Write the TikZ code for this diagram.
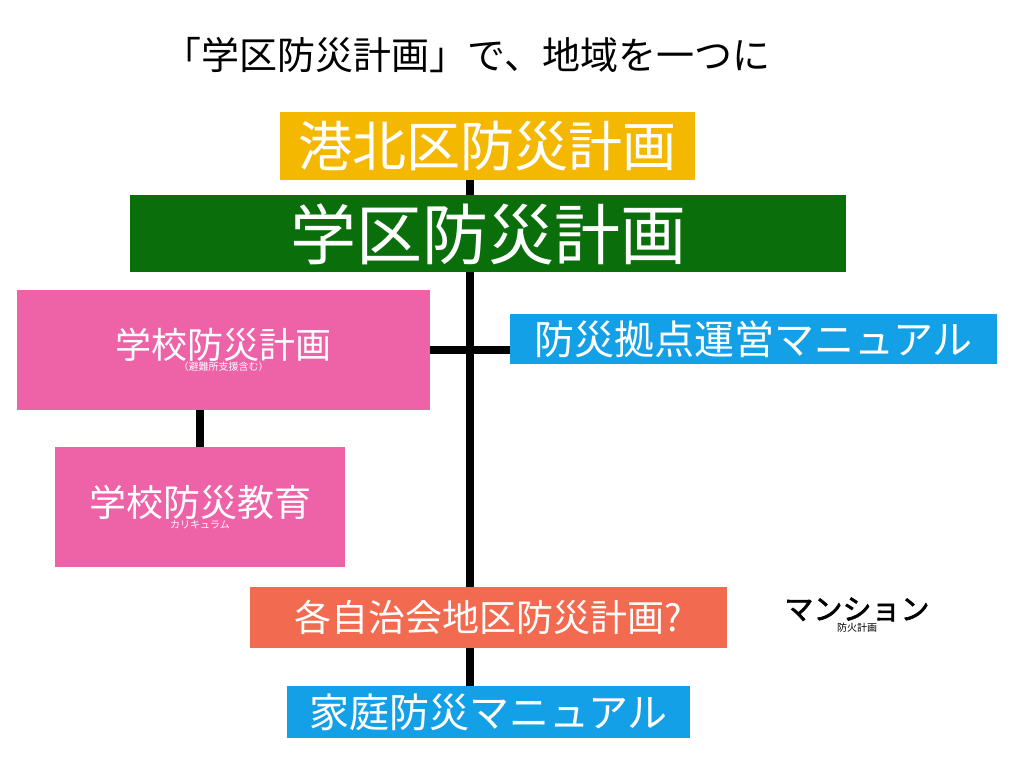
\documentclass[tikz,border=0pt]{standalone}
\usepackage{fontspec}
\setmainfont{Noto Sans CJK JP}
\newfontfamily\jpb{Noto Sans CJK JP}[FakeBold=2]
\definecolor{cyel}{HTML}{F5B800}
\definecolor{cgrn}{HTML}{0A6E0A}
\definecolor{cpnk}{HTML}{EE62A8}
\definecolor{cblu}{HTML}{14A0E6}
\definecolor{corg}{HTML}{F26A50}
\tikzset{x=1pt,y=-1pt,
 bx/.style={inner sep=0pt,text=white,align=center},
 ln/.style={line width=8pt,black}}
\begin{document}
\begin{tikzpicture}
\useasboundingbox (0,0) rectangle (1021,768);
\fill[white] (0,0) rectangle (1021,768);
\node (t) at (467,55) {\fontsize{38}{44}\selectfont 「学区防災計画」で、地域を一つに};
% vertical line
\coordinate (vt) at (470,180);
\coordinate (vb) at (470,686);
\draw[ln] (vt) -- (vb);
\draw[ln] (430,350) -- (510,350);
\draw[ln] (200,410) -- (200,447);
\fill[cyel] (280,112) rectangle (695,180);
\node[bx] (a) at (487.5,146) {\fontsize{54}{60}\selectfont 港北区防災計画};
\fill[cgrn] (130,195) rectangle (846,272);
\node[bx] (b) at (488,234) {\fontsize{66}{72}\selectfont 学区防災計画};
\fill[cpnk] (17,290) rectangle (430,410);
\node[bx] (c) at (223.5,350) {\fontsize{36}{57}\selectfont 学校防災計画\\（避難所支援含む）};
\fill[cblu] (510,314) rectangle (997,364);
\node[bx] (d) at (753.5,339) {\fontsize{40}{46}\selectfont 防災拠点運営マニュアル};
\fill[cpnk] (55,447) rectangle (345,567);
\node[bx] (e) at (200,507) {\fontsize{37}{57}\selectfont 学校防災教育\\カリキュラム};
\fill[corg] (250,587) rectangle (727,648);
\node[bx] (f) at (488.5,617.5) {\fontsize{37}{44}\selectfont 各自治会地区防災計画?};
\fill[cblu] (287,686) rectangle (690,738);
\node[bx] (g) at (488.5,712) {\fontsize{40}{46}\selectfont 家庭防災マニュアル};
\node[align=center] (h) at (857,615) {\jpb\fontsize{29}{50}\selectfont マンション\\防火計画};
\end{tikzpicture}
\end{document}
